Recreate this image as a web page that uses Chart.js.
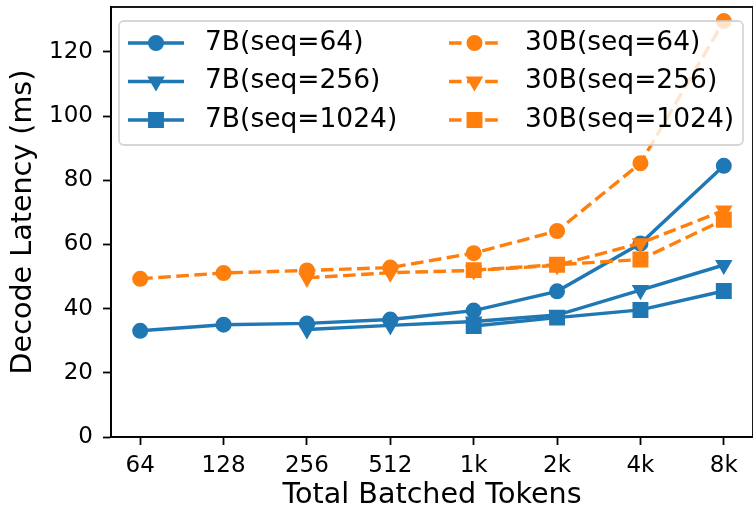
<!DOCTYPE html>
<html>
<head>
<meta charset="utf-8">
<script src="https://cdn.jsdelivr.net/npm/chart.js@4.4.0/dist/chart.umd.min.js"></script>
<style>
  html, body { margin: 0; padding: 0; overflow: hidden; background: #fff; width: 753px; height: 512px; }
  canvas { display: block; }
</style>
</head>
<body>
<canvas id="myChart" width="753" height="512"></canvas>
<script>
// Datos
const categorias = ["64", "128", "256", "512", "1k", "2k", "4k", "8k"];
const b7_seq64 = [33.1, 35.0, 35.4, 36.6, 39.4, 45.4, 60.3, 84.5];
const b7_seq256 = [null, null, 33.5, 34.8, 36.0, 38.0, 45.8, 53.6];
const b7_seq1024 = [null, null, null, null, 34.6, 37.2, 39.6, 45.5];
const b30_seq64 = [49.3, 51.1, 51.9, 52.8, 57.3, 64.2, 85.3, 129.6];
const b30_seq256 = [null, null, 49.6, 51.2, 51.9, 53.5, 60.4, 70.6];
const b30_seq1024 = [null, null, null, null, 52.0, 53.7, 55.3, 67.7];
const ticksY = [0, 20, 40, 60, 80, 100, 120];

const azul = "#1f77b4";
const naranja = "#ff7f0e";
const fuente = "'DejaVu Sans', sans-serif";

function puntos(valores) {
  return valores
    .map(function (v, i) {
      return v === null ? null : { x: i, y: v };
    })
    .filter(function (p) {
      return p !== null;
    });
}

function serie(label, valores, color, estilo, dashed, orden) {
  let radio = 6.9;
  let rot = 0;
  if (estilo === "triangle") {
    radio = 7.9;
    rot = 180;
  } else if (estilo === "rect") {
    radio = 9.7;
  }
  return {
    label: label,
    data: puntos(valores),
    borderColor: color,
    backgroundColor: color,
    borderWidth: 3.4,
    borderDash: dashed ? [12.6, 5.5] : [],
    pointStyle: estilo,
    pointRotation: rot,
    pointRadius: radio,
    pointHoverRadius: radio,
    pointBorderWidth: 2.2,
    pointBorderColor: color,
    pointBackgroundColor: color,
    tension: 0,
    order: orden,
  };
}

// Leyenda dentro del area del grafico, como en matplotlib
const leyendaInterna = {
  id: "leyendaInterna",
  afterDraw: function (chart) {
    const ctx = chart.ctx;
    const area = chart.chartArea;
    const x0 = area.left + 8;
    const y0 = area.top + 14;
    const w = 624;
    const h = 124;
    ctx.save();
    ctx.beginPath();
    ctx.roundRect(x0, y0, w, h, 5);
    ctx.fillStyle = "rgba(255,255,255,0.8)";
    ctx.fill();
    ctx.lineWidth = 1.8;
    ctx.strokeStyle = "rgba(204,204,204,0.8)";
    ctx.stroke();

    chart.data.datasets.forEach(function (ds, i) {
      const col = i < 3 ? 0 : 1;
      const fila = i % 3;
      const y = y0 + 22 + fila * 38.5;
      const lx1 = col === 0 ? x0 + 9 : x0 + 330;
      const lx2 = col === 0 ? x0 + 65 : x0 + 381;
      const tx = col === 0 ? x0 + 86 : x0 + 406;

      ctx.beginPath();
      ctx.setLineDash(ds.borderDash);
      ctx.lineWidth = ds.borderWidth;
      ctx.strokeStyle = ds.borderColor;
      ctx.moveTo(lx1, y);
      ctx.lineTo(lx2, y);
      ctx.stroke();
      ctx.setLineDash([]);

      ctx.fillStyle = ds.pointBackgroundColor;
      ctx.strokeStyle = ds.pointBorderColor;
      ctx.lineWidth = ds.pointBorderWidth;
      Chart.helpers.drawPoint(
        ctx,
        {
          pointStyle: ds.pointStyle,
          rotation: ds.pointRotation,
          radius: ds.pointRadius,
          borderWidth: ds.pointBorderWidth,
        },
        (lx1 + lx2) / 2,
        y
      );

      ctx.fillStyle = "#000";
      ctx.font = "26.5px " + fuente;
      ctx.textBaseline = "middle";
      ctx.textAlign = "left";
      ctx.fillText(ds.label, tx, y);
    });
    ctx.restore();
  },
};

// Marco completo de los ejes
const marco = {
  id: "marco",
  afterDatasetsDraw: function (chart) {
    const ctx = chart.ctx;
    const a = chart.chartArea;
    ctx.save();
    ctx.strokeStyle = "#000";
    ctx.lineWidth = 1.8;
    ctx.strokeRect(a.left, a.top, a.right - a.left, a.bottom - a.top);
    ctx.restore();
  },
};

const ctx = document.getElementById("myChart").getContext("2d");
const myChart = new Chart(ctx, {
  type: "line",
  data: {
    datasets: [
      serie("7B(seq=64)", b7_seq64, azul, "circle", false, 6),
      serie("7B(seq=256)", b7_seq256, azul, "triangle", false, 5),
      serie("7B(seq=1024)", b7_seq1024, azul, "rect", false, 4),
      serie("30B(seq=64)", b30_seq64, naranja, "circle", true, 3),
      serie("30B(seq=256)", b30_seq256, naranja, "triangle", true, 2),
      serie("30B(seq=1024)", b30_seq1024, naranja, "rect", true, 1),
    ],
  },
  options: {
    responsive: false,
    animation: false,
    layout: {
      autoPadding: false,
      // el marco derecho queda justo fuera de la imagen
      padding: { top: 7, right: -2.5, bottom: 0, left: 0 },
    },
    plugins: {
      legend: { display: false },
      tooltip: { enabled: false },
    },
    scales: {
      x: {
        type: "linear",
        min: -0.35,
        max: 7.35,
        afterBuildTicks: function (scale) {
          scale.ticks = categorias.map(function (c, i) {
            return { value: i };
          });
        },
        afterFit: function (scale) {
          scale.height = 75;
          scale.paddingLeft = 0;
          scale.paddingRight = 0;
        },
        ticks: {
          color: "#000",
          font: { family: fuente, size: 23 },
          padding: 7,
          maxRotation: 0,
          autoSkip: false,
          callback: function (v) {
            return categorias[v];
          },
        },
        grid: {
          drawOnChartArea: false,
          drawTicks: true,
          tickLength: 8,
          tickWidth: 1.8,
          tickColor: "#000",
        },
        border: { display: true, color: "#000", width: 1.8 },
        title: {
          display: true,
          text: "Total Batched Tokens",
          color: "#000",
          font: { family: fuente, size: 28.6 },
          padding: { top: 0, bottom: -1 },
        },
      },
      y: {
        min: 0,
        max: 134,
        afterBuildTicks: function (scale) {
          scale.ticks = ticksY.map(function (v) {
            return { value: v };
          });
        },
        afterFit: function (scale) {
          scale.width = 111;
          scale.paddingTop = 0;
          scale.paddingBottom = 0;
        },
        ticks: {
          color: "#000",
          font: { family: fuente, size: 23 },
          padding: 10,
        },
        grid: {
          drawOnChartArea: false,
          drawTicks: true,
          tickLength: 8,
          tickWidth: 1.8,
          tickColor: "#000",
        },
        border: { display: true, color: "#000", width: 1.8 },
        title: {
          display: true,
          text: "Decode Latency (ms)",
          color: "#000",
          font: { family: fuente, size: 28.6 },
          padding: { top: 6, bottom: 0 },
        },
      },
    },
  },
  plugins: [marco, leyendaInterna],
});
</script>
</body>
</html>
